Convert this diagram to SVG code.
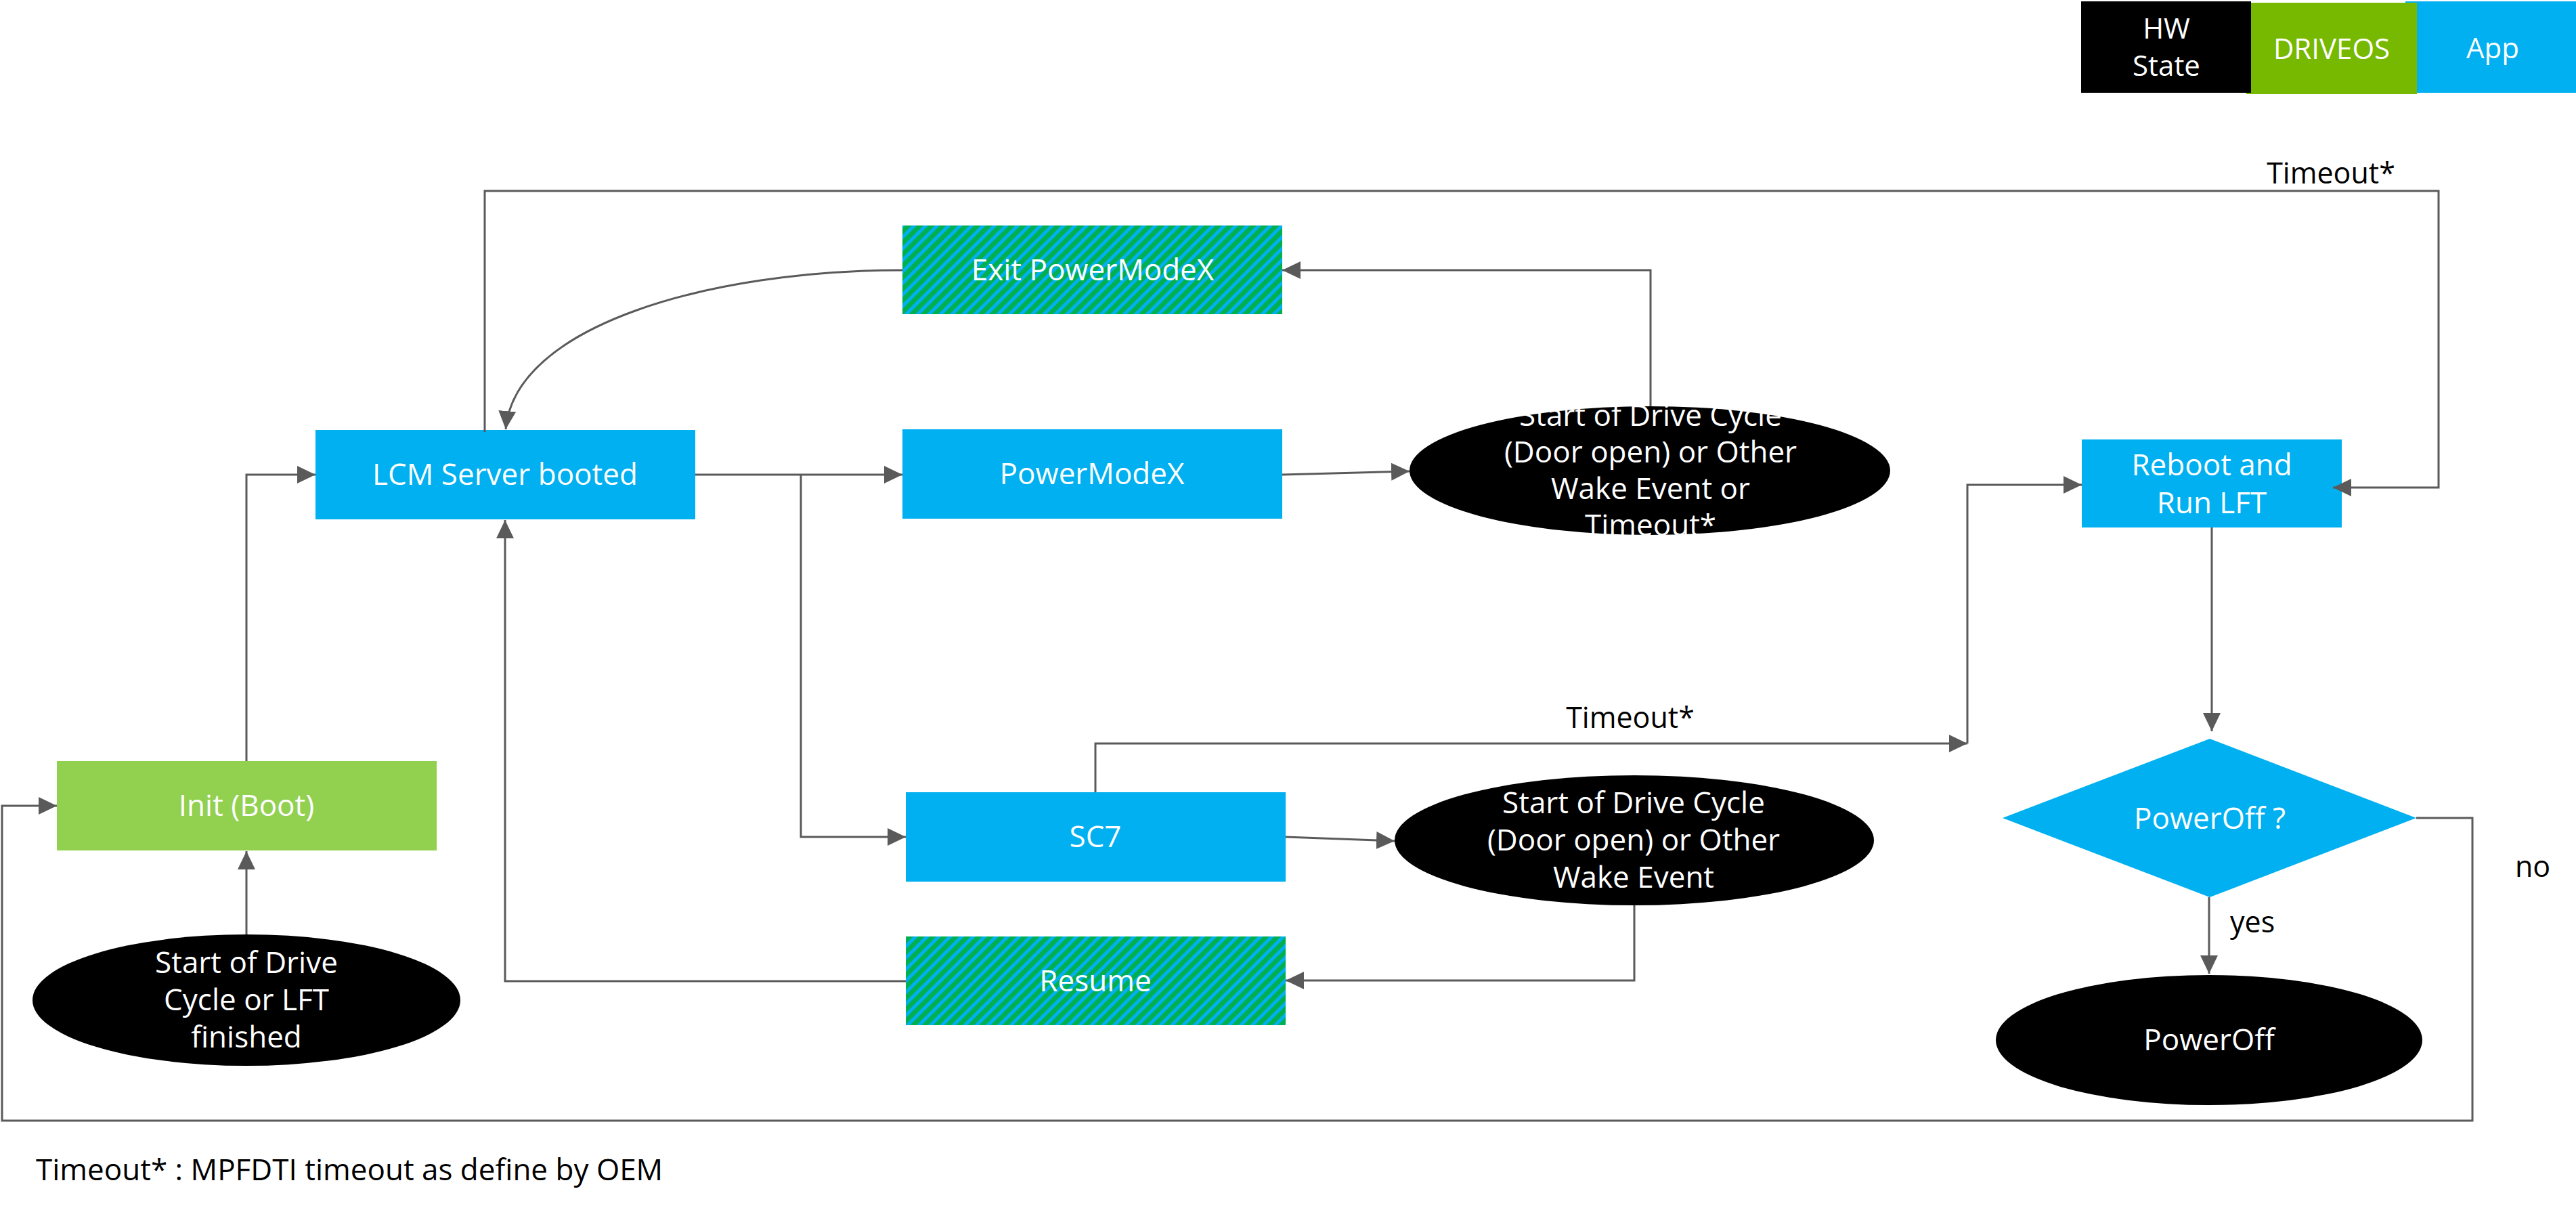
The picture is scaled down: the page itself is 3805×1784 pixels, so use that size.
<svg xmlns="http://www.w3.org/2000/svg" width="3805" height="1784" viewBox="0 0 3805 1784">
<defs>
<style>
.t{font-family:"Open Sans","Liberation Sans",sans-serif;font-size:44px;fill:#fff;text-anchor:middle}
.lg{font-size:42px}
.lbl{font-family:"Open Sans","Liberation Sans",sans-serif;font-size:43px;fill:#000}
.app{fill:#00b0f0}
.hw{fill:#000}
.c{fill:none;stroke:#5a5a5a;stroke-width:3}
.a{marker-end:url(#arr)}
</style>
<marker id="arr" markerUnits="userSpaceOnUse" markerWidth="28" markerHeight="27" refX="27" refY="13" orient="auto">
<path d="M0,0 L27,13 L0,26 z" fill="#5a5a5a"/>
</marker>
<pattern id="hatch" width="12" height="12" patternUnits="userSpaceOnUse" patternTransform="rotate(45)">
<rect width="12" height="12" fill="#00b050"/>
<rect width="5" height="12" fill="#00b0f0"/>
</pattern>
</defs>
<rect width="3805" height="1784" fill="#fff"/>

<g id="legend">
<rect x="3553" y="2" width="252" height="135" fill="#00b0f0"/>
<rect x="3318" y="4" width="252" height="135" fill="#76b900"/>
<rect x="3074" y="2" width="251" height="135" fill="#000"/>
<text class="t lg" x="3200" y="57">HW</text>
<text class="t lg" x="3200" y="112">State</text>
<text class="t lg" x="3444" y="87">DRIVEOS</text>
<text class="t lg" x="3682" y="86">App</text>
</g>

<g id="lcm"><rect class="app" x="466" y="635" width="561" height="132"/><text class="t" x="746" y="716">LCM Server booted</text></g>
<g id="init"><rect x="84" y="1124" width="561" height="132" fill="#92d050"/><text class="t" x="364" y="1205">Init (Boot)</text></g>
<g id="start"><ellipse class="hw" cx="364" cy="1477" rx="316" ry="97"/>
<text class="t" x="364" y="1437">Start of Drive</text><text class="t" x="364" y="1492">Cycle or LFT</text><text class="t" x="364" y="1547">finished</text></g>
<g id="exitpm"><rect x="1333" y="333" width="561" height="131" fill="url(#hatch)"/><text class="t" x="1614" y="414">Exit PowerModeX</text></g>
<g id="pmx"><rect class="app" x="1333" y="634" width="561" height="132"/><text class="t" x="1613" y="715">PowerModeX</text></g>
<g id="wake1"><ellipse class="hw" cx="2437" cy="695" rx="355" ry="95"/>
<text class="t" x="2438" y="629">Start of Drive Cycle</text><text class="t" x="2438" y="683">(Door open) or Other</text><text class="t" x="2438" y="737">Wake Event or</text><text class="t" x="2438" y="791">Timeout*</text></g>
<g id="sc7"><rect class="app" x="1338" y="1170" width="561" height="132"/><text class="t" x="1618" y="1251">SC7</text></g>
<g id="resume"><rect x="1338" y="1383" width="561" height="131" fill="url(#hatch)"/><text class="t" x="1618" y="1464">Resume</text></g>
<g id="wake2"><ellipse class="hw" cx="2414" cy="1241" rx="354" ry="96"/>
<text class="t" x="2413" y="1201">Start of Drive Cycle</text><text class="t" x="2413" y="1256">(Door open) or Other</text><text class="t" x="2413" y="1311">Wake Event</text></g>
<g id="reboot"><rect class="app" x="3075" y="649" width="384" height="130"/><text class="t" x="3267" y="702">Reboot and</text><text class="t" x="3267" y="758">Run LFT</text></g>
<g id="decision"><path class="app" d="M2958,1208 L3264,1091 L3569,1208 L3264,1325 z"/><text class="t" x="3264" y="1224">PowerOff ?</text></g>
<g id="poweroff"><ellipse class="hw" cx="3263" cy="1536" rx="315" ry="96"/><text class="t" x="3263" y="1551">PowerOff</text></g>

<g id="connectors">
<path class="c a" d="M364,1380 L364,1257"/>
<path class="c a" d="M364,1124 L364,701 L466,701"/>
<path class="c a" d="M1027,701 L1333,701"/>
<path class="c a" d="M1183,701 L1183,1236 L1338,1236"/>
<path class="c a" d="M1894,701 L2082,696"/>
<path class="c a" d="M2438,600 L2438,399 L1894,399"/>
<path class="c a" d="M1333,399 C1050,399 760,480 747,634"/>
<path class="c a" d="M1899,1236 L2060,1242"/>
<path class="c a" d="M2414,1337 L2414,1448 L1899,1448"/>
<path class="c a" d="M1338,1449 L746,1449 L746,768"/>
<path class="c a" d="M1618,1170 L1618,1098 L2906,1098"/>
<path class="c a" d="M2906,1098 L2906,716 L3075,716"/>
<path class="c a" d="M716,638 L716,282 L3602,282 L3602,720 L3446,720"/>
<path class="c a" d="M3267,779 L3267,1080"/>
<path class="c a" d="M3263,1325 L3263,1438"/>
<path class="c a" d="M3569,1208 L3652,1208 L3652,1655 L3,1655 L3,1190 L84,1190"/>
</g>

<g id="labels">
<text class="lbl" x="3443" y="271" text-anchor="middle">Timeout*</text>
<text class="lbl" x="2408" y="1075" text-anchor="middle">Timeout*</text>
<text class="lbl" x="3294" y="1377">yes</text>
<text class="lbl" x="3715" y="1295">no</text>
<text class="lbl" x="53" y="1743" style="font-size:44px">Timeout* : MPFDTI timeout as define by OEM</text>
</g>
</svg>
